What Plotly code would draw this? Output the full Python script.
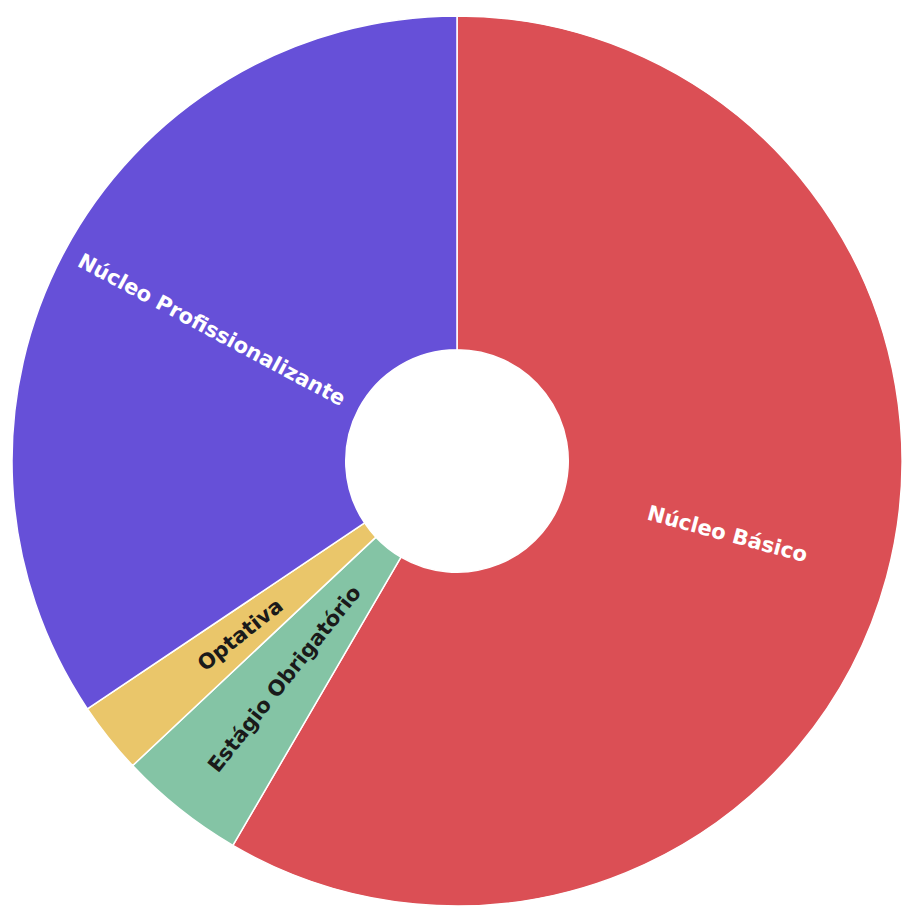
import math
import plotly.graph_objects as go

categories = ["Núcleo Básico", "Estágio Obrigatório", "Optativa", "Núcleo Profissionalizante"]
values = [58.4, 4.6, 2.6, 34.4]
colors = ["#db4f55", "#84c4a5", "#eac66a", "#6650d8"]
text_colors = ["#ffffff", "#1a1a1a", "#1a1a1a", "#ffffff"]

W, H = 902, 907
cx, cy, R = 458, 461, 446
HOLE = 0.25

fig = go.Figure(go.Pie(
    labels=categories,
    values=values,
    sort=False,
    direction="clockwise",
    rotation=0,
    hole=HOLE,
    textinfo="none",
    hoverinfo="label+percent",
    marker=dict(colors=colors, line=dict(color="#ffffff", width=1.5)),
    showlegend=False,
    domain=dict(x=[(cx - R) / W, min(1, (cx + R) / W)],
                y=[(H - cy - R) / H, (H - cy + R) / H]),
))

# radial labels at the middle of each slice
total = sum(values)
acc = 0.0
r_mid = R * (1 + HOLE) / 2
for lab, v, tc in zip(categories, values, text_colors):
    mid = (acc + v / 2) / total * 360.0
    acc += v
    th = math.radians(mid)
    px = cx + r_mid * math.sin(th)
    py = cy - r_mid * math.cos(th)
    ang = mid - 90 if mid < 180 else mid - 270
    fig.add_annotation(
        x=px / W, y=(H - py) / H, xref="paper", yref="paper",
        text=lab, showarrow=False, textangle=ang,
        xanchor="center", yanchor="middle",
        font=dict(family="DejaVu Sans", size=21, color=tc, weight="bold"),
    )

fig.update_layout(
    width=W, height=H,
    margin=dict(l=0, r=0, t=0, b=0),
    paper_bgcolor="#ffffff",
    plot_bgcolor="#ffffff",
)
fig.write_html("out.html")
